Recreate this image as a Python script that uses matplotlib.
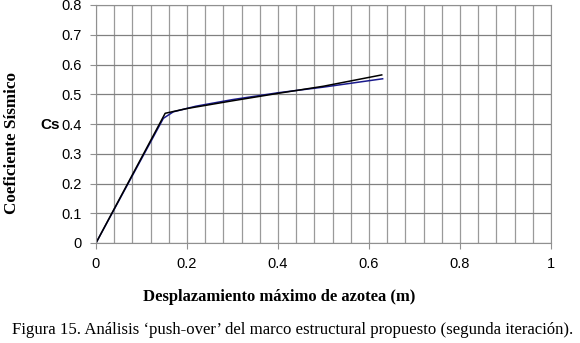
import matplotlib.pyplot as plt
import numpy as np

# curva push-over
desp_1 = [0.0, 0.152, 0.20, 0.30, 0.40, 0.50, 0.628]
cs_1 = [0.0, 0.436, 0.452, 0.478, 0.503, 0.527, 0.565]

desp_2 = [0.0, 0.148, 0.17, 0.22, 0.30, 0.40, 0.50, 0.63]
cs_2 = [0.0, 0.419, 0.441, 0.46, 0.482, 0.505, 0.524, 0.552]

xticks = [0, 0.2, 0.4, 0.6, 0.8, 1]
yticks = [0, 0.1, 0.2, 0.3, 0.4, 0.5, 0.6, 0.7, 0.8]

fig = plt.figure(figsize=(5.8, 3.43), dpi=100)
ax = fig.add_axes([96/580, 1-243/343, 455/580, 238/343])

ax.plot(desp_2, cs_2, color='#1a1a8c', lw=1.1)
ax.plot(desp_1, cs_1, color='black', lw=1.1)

ax.set_xlim(0, 1)
ax.set_ylim(0, 0.8)
ax.set_xticks(xticks)
ax.set_xticklabels(['0', '0.2', '0.4', '0.6', '0.8', '1'])
ax.set_yticks(yticks)
ax.set_yticklabels(['0', '0.1', '0.2', '0.3', '0.4', '0.5', '0.6', '0.7', '0.8'])
ax.set_xticks(np.arange(0, 1.001, 0.04), minor=True)
ax.grid(True, which='major', axis='y', color='#808080', lw=0.9)
ax.grid(True, which='both', axis='x', color='#9a9a9a', lw=0.9)
ax.tick_params(which='minor', length=0)
ax.tick_params(which='major', length=4, color='#909090', labelsize=10.5, pad=6)
for lab in ax.get_xticklabels() + ax.get_yticklabels():
    lab.set_family('Liberation Sans')
for s in ax.spines.values():
    s.set_color('#909090')

fig.text(12/580, 1-143/343, 'Coeficiente Sísmico', rotation=90, ha='center', va='center',
         family='Liberation Serif', fontweight='bold', fontsize=12.3)
fig.text(50/580, 1-125/343, 'Cs', ha='center', va='center',
         family='Liberation Sans', fontweight='bold', fontsize=11)
fig.text(279/580, 1-297/343, 'Desplazamiento máximo de azotea (m)', ha='center', va='center',
         family='Liberation Serif', fontweight='bold', fontsize=12)
fig.text(293/580, 1-330/343, 'Figura 15. Análisis \u2018push-over\u2019 del marco estructural propuesto (segunda iteración).',
         ha='center', va='center', family='Liberation Serif', fontsize=12.1)

fig.savefig('out.png', dpi=100)
